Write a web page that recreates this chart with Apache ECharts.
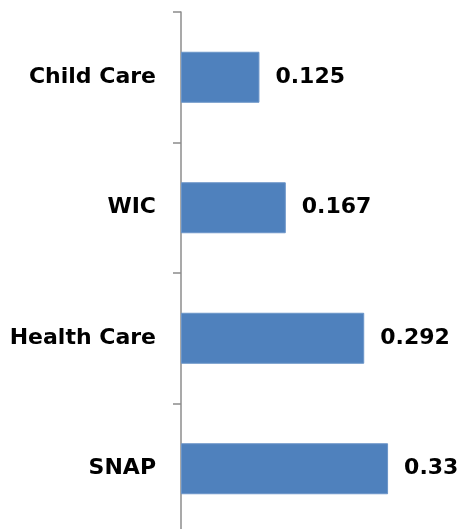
<!DOCTYPE html>
<html>
<head>
<meta charset="utf-8">
<style>
  html, body { margin: 0; padding: 0; background: #ffffff; }
  #chart { width: 461px; height: 529px; }
</style>
<script src="https://cdn.jsdelivr.net/npm/echarts@6/dist/echarts.min.js"></script>
</head>
<body>
<div id="chart"></div>
<script>
// Programs, listed bottom to top along the category axis
const categories = ['SNAP', 'Health Care', 'WIC', 'Child Care'];
const values = [0.33, 0.292, 0.167, 0.125];

const chart = echarts.init(document.getElementById('chart'), null, { renderer: 'canvas' });

const textFont = 'DejaVu Sans';

chart.setOption({
  animation: false,
  backgroundColor: '#ffffff',
  // plot area runs a few pixels past the bottom edge, so the last tick is cut off
  grid: {
    left: 181, width: 251, top: 12, height: 522,
    containLabel: false,
    outerBoundsMode: 'none'
  },
  xAxis: {
    type: 'value',
    min: 0,
    max: 0.4,
    show: false
  },
  yAxis: {
    type: 'category',
    data: categories,
    axisLine: { show: true, lineStyle: { color: '#8c8c8c', width: 1.5 } },
    axisTick: { show: true, length: 8, alignWithLabel: false, lineStyle: { color: '#8c8c8c', width: 1.5 } },
    axisLabel: {
      margin: 25,
      color: '#000000',
      fontFamily: textFont,
      fontWeight: 'bold',
      fontSize: 22
    },
    splitLine: { show: false }
  },
  series: [{
    type: 'bar',
    data: values,
    barWidth: 51,
    itemStyle: { color: '#4f81bd', borderColor: '#6b95c8', borderWidth: 1 },
    label: {
      show: true,
      position: 'right',
      distance: 16,
      color: '#000000',
      fontFamily: textFont,
      fontWeight: 'bold',
      fontSize: 22,
      formatter: p => String(p.value)
    }
  }]
});
</script>
</body>
</html>
